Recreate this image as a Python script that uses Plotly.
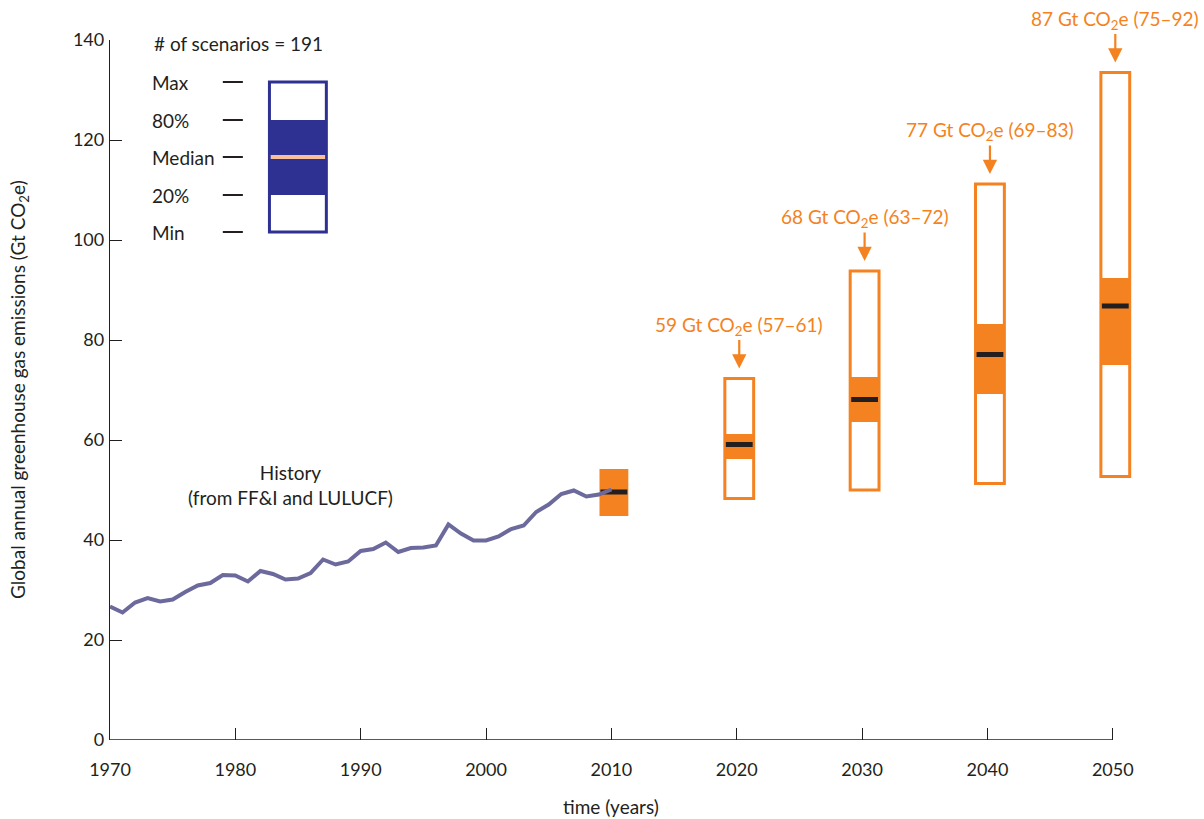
import plotly.graph_objects as go

# ---------------- data ----------------
hist_years = list(range(1970, 2011))
hist_emissions = [26.7, 25.5, 27.5, 28.4, 27.7, 28.1, 29.6, 30.9, 31.4, 33.0,
                  32.9, 31.7, 33.8, 33.2, 32.1, 32.3, 33.4, 36.1, 35.1, 35.7,
                  37.8, 38.2, 39.5, 37.6, 38.4, 38.5, 38.9, 43.1, 41.3, 39.9,
                  39.9, 40.7, 42.2, 42.9, 45.6, 47.1, 49.2, 49.9, 48.7, 49.1, 50.1]

scen_years = [2010, 2020, 2030, 2040, 2050]
scen_min = [44.8, 48.3, 50.0, 51.3, 52.7]
scen_p20 = [44.8, 56.2, 63.6, 69.2, 75.0]
scen_median = [49.6, 59.1, 68.1, 77.1, 86.8]
scen_p80 = [54.2, 61.2, 72.6, 83.2, 92.4]
scen_max = [54.2, 72.3, 93.8, 111.2, 133.5]
scen_labels = ["", "59 Gt CO<sub>2</sub>e (57–61)", "68 Gt CO<sub>2</sub>e (63–72)",
               "77 Gt CO<sub>2</sub>e (69–83)", "87 Gt CO<sub>2</sub>e (75–92)"]

legend_title = "# of scenarios = 191"
legend_labels = ["Max", "80%", "Median", "20%", "Min"]
legend_levels = [131.6, 124.0, 116.6, 109.0, 101.6]

x_ticks = [1970, 1980, 1990, 2000, 2010, 2020, 2030, 2040, 2050]
y_ticks = [0, 20, 40, 60, 80, 100, 120, 140]

# ---------------- style ----------------
FONT = "Lato"
ORANGE = "#F58220"
NAVY = "#2E3192"
PEACH = "#F9BF98"
DARK = "#231F20"
HIST = "#6C6A9C"
FS = 19
TFS = 18

fig = go.Figure()
shapes = []
annotations = []

# scenario boxes
half = 1.15
off = 0.2
for i, yr in enumerate(scen_years):
    xc = yr + off
    shapes.append(dict(type="rect", xref="x", yref="y", x0=xc - half, x1=xc + half,
                       y0=scen_p20[i], y1=scen_p80[i], fillcolor=ORANGE,
                       line=dict(width=0), layer="below"))
    if scen_max[i] > scen_p80[i] or scen_min[i] < scen_p20[i]:
        shapes.append(dict(type="rect", xref="x", yref="y", x0=xc - half, x1=xc + half,
                           y0=scen_min[i], y1=scen_max[i], fillcolor="rgba(0,0,0,0)",
                           line=dict(color=ORANGE, width=3), layer="below"))
    shapes.append(dict(type="line", xref="x", yref="y", x0=xc - half + 0.08,
                       x1=xc + half - 0.08, y0=scen_median[i], y1=scen_median[i],
                       line=dict(color=DARK, width=5), layer="below"))
    if scen_labels[i]:
        annotations.append(dict(x=xc, y=scen_max[i], xref="x", yref="y",
                                text=scen_labels[i], showarrow=True,
                                ax=0, ay=-53, standoff=10,
                                arrowhead=2, arrowsize=1.3, arrowwidth=2.2,
                                arrowcolor=ORANGE,
                                font=dict(family=FONT, size=FS, color=ORANGE)))

# legend key box
lx0, lx1 = 1982.72, 1987.26
shapes.append(dict(type="rect", xref="x", yref="y", x0=lx0, x1=lx1,
                   y0=legend_levels[3], y1=legend_levels[1], fillcolor=NAVY,
                   line=dict(width=0), layer="below"))
shapes.append(dict(type="rect", xref="x", yref="y", x0=lx0, x1=lx1,
                   y0=legend_levels[4], y1=legend_levels[0], fillcolor="rgba(0,0,0,0)",
                   line=dict(color=NAVY, width=3), layer="below"))
shapes.append(dict(type="line", xref="x", yref="y", x0=lx0 + 0.1, x1=lx1 - 0.1,
                   y0=legend_levels[2], y1=legend_levels[2],
                   line=dict(color=PEACH, width=4), layer="below"))
for lab, lev in zip(legend_labels, legend_levels):
    annotations.append(dict(x=1973.2, y=lev, xref="x", yref="y", text=lab,
                            showarrow=False, xanchor="left", yanchor="middle",
                            font=dict(family=FONT, size=FS, color=DARK)))
    shapes.append(dict(type="line", xref="x", yref="y", x0=1979.0, x1=1980.6,
                       y0=lev, y1=lev, line=dict(color=DARK, width=2)))
annotations.append(dict(x=1973.35, y=139.3, xref="x", yref="y", text=legend_title,
                        showarrow=False, xanchor="left", yanchor="middle",
                        font=dict(family=FONT, size=FS, color=DARK)))

# history label
annotations.append(dict(x=1984.4, y=51.0, xref="x", yref="y",
                        text="History<br>(from FF&amp;I and LULUCF)",
                        showarrow=False, xanchor="center", yanchor="middle",
                        font=dict(family=FONT, size=FS, color=DARK)))

# x axis baseline (only to 2050)
shapes.append(dict(type="line", xref="x", yref="y", x0=1970, x1=2050, y0=0, y1=0,
                   line=dict(color=DARK, width=1.3)))

# axis titles
annotations.append(dict(x=2010, y=0, xref="x", yref="y", yshift=-66,
                        text="time (years)", showarrow=False,
                        xanchor="center", yanchor="middle",
                        font=dict(family=FONT, size=FS, color=DARK)))
annotations.append(dict(x=0, y=0.5, xref="paper", yref="paper", xshift=-91,
                        text="Global annual greenhouse gas emissions (Gt CO<sub>2</sub>e)",
                        textangle=-90, showarrow=False,
                        xanchor="center", yanchor="middle",
                        font=dict(family=FONT, size=FS, color=DARK)))

# history trace
fig.add_trace(go.Scatter(x=hist_years, y=hist_emissions, mode="lines",
                         line=dict(color=HIST, width=4), hoverinfo="skip",
                         showlegend=False, cliponaxis=False))

fig.update_layout(
    width=1204, height=819,
    margin=dict(l=110, r=16, t=40, b=79),
    paper_bgcolor="white", plot_bgcolor="white",
    showlegend=False,
    shapes=shapes, annotations=annotations,
    font=dict(family=FONT, size=FS, color=DARK),
    xaxis=dict(range=[1970, 2056], tickvals=x_ticks, ticks="inside", ticklen=12,
               tickwidth=1, tickcolor=DARK, showline=False, showgrid=False,
               zeroline=False, ticklabelstandoff=17,
               tickfont=dict(family=FONT, size=TFS, color=DARK)),
    yaxis=dict(range=[0, 140], tickvals=y_ticks, ticks="inside", ticklen=12,
               tickwidth=1, tickcolor=DARK, showline=True, linecolor=DARK,
               linewidth=1.3, showgrid=False, zeroline=False,
               ticklabelstandoff=1,
               tickfont=dict(family=FONT, size=TFS, color=DARK)),
)

fig.write_html("out.html", config={"displayModeBar": False},
               post_script="document.body.style.margin='0';")
